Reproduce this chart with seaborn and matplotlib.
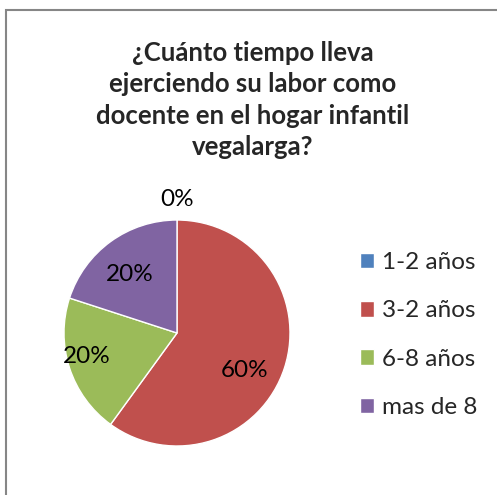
import matplotlib
matplotlib.use("Agg")
import matplotlib.pyplot as plt
from matplotlib.patches import Rectangle
import seaborn as sns

sns.set_style("white")
plt.rcParams['font.family'] = ['Lato', 'DejaVu Sans']

# data
categories = ["1-2 años", "3-2 años", "6-8 años", "mas de 8"]
shares = [0, 60, 20, 20]
colors = ["#4F81BD", "#C0504D", "#9BBB59", "#8064A2"]
title = "¿Cuánto tiempo lleva\nejerciendo su labor como\ndocente en el hogar infantil\nvegalarga?"

W, H = 497, 495
fig = plt.figure(figsize=(W / 100, H / 100), dpi=100)

# chart frame (cut off at right and bottom like the screenshot)
fig.patches.append(Rectangle((6 / W, -0.05), 1.2, (H - 10) / H + 0.05,
                             transform=fig.transFigure, fill=False,
                             edgecolor="#868686", linewidth=1.5))

cx, cy, r = 177, 333, 113
ax = fig.add_axes([(cx - r) / W, (H - cy - r) / H, 2 * r / W, 2 * r / H])
wedges, texts, autotexts = ax.pie(shares, colors=colors, startangle=90,
                                  counterclock=False, autopct="%1.0f%%",
                                  pctdistance=0.7, radius=1)
ax.set_xlim(-1, 1)
ax.set_ylim(-1, 1)
ax.set_aspect("equal")

# nudge labels to where Excel put them
label_pos = [(0.0, 1.18), (0.60, -0.33), (-0.80, -0.21), (-0.42, 0.52)]
for t, p in zip(autotexts, label_pos):
    t.set_position(p)
    t.set_fontsize(17.5)
    t.set_color("black")

fig.text(253 / W, 1 - 100 / H, title, ha="center", va="center",
         fontsize=18.5, fontweight="bold", linespacing=1.38)

fig.legend(wedges, categories, loc="center left",
           bbox_to_anchor=(338 / W, 1 - 335 / H), frameon=False,
           fontsize=17.5, handlelength=0.6, handleheight=0.6,
           handletextpad=0.3, labelspacing=1.12)

fig.savefig("out.png", dpi=100)
